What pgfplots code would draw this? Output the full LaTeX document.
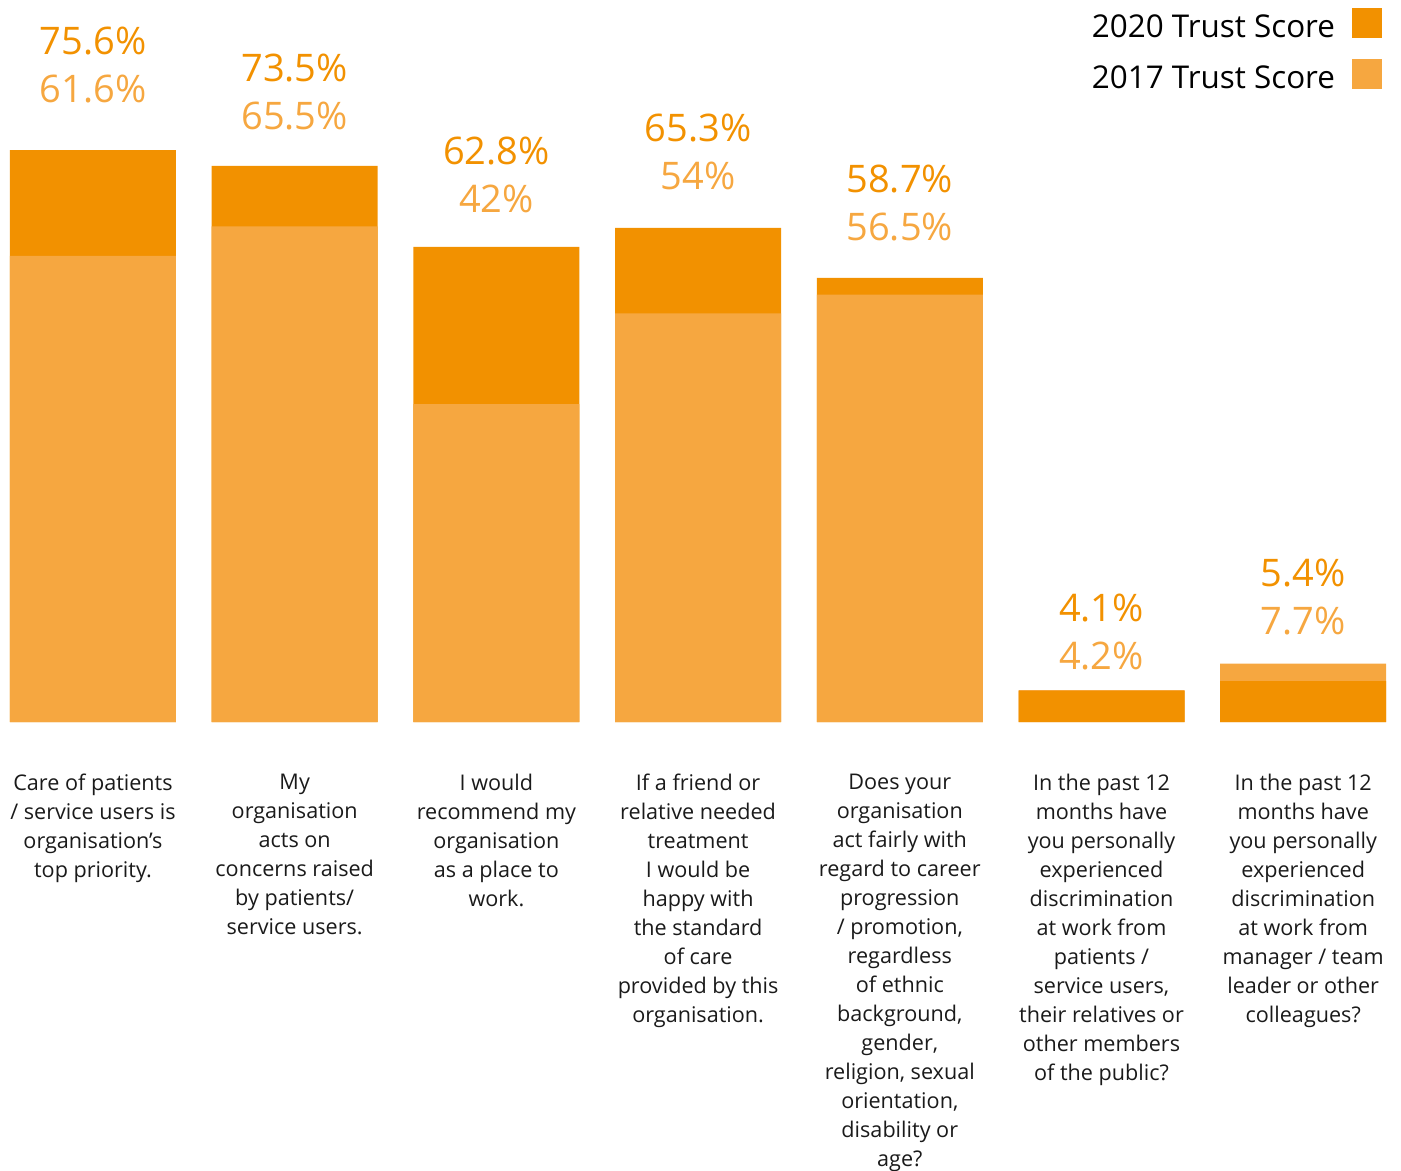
\documentclass[border=0pt]{standalone}
\usepackage{pgfplots}
\pgfplotsset{compat=1.18}
\usepackage{pgfplotstable}
\usepackage{fontspec}
\setmainfont{Open Sans}
\definecolor{c20}{HTML}{F29100}
\definecolor{c17}{HTML}{F6A740}
\definecolor{txt}{HTML}{1A1A1A}

% trust scores, off = label gap above the bar top (axis units)
\pgfplotstableread{
x y20 y17 top off
0 75.6 61.6 75.6 6.34
1 73.5 65.5 73.5 4.76
2 62.8 42 62.8 4.49
3 65.3 54 65.3 5.02
4 58.7 56.5 58.7 4.89
5 4.1 4.2 4.2 2.78
6 5.4 7.7 7.7 3.83
}\scores

\begin{document}
\begin{tikzpicture}
\begin{axis}[
    scale only axis,
    width=700.5pt, height=361pt,
    xmin=-0.461, xmax=6.485,
    ymin=0, ymax=95.43,
    clip=false,
    ybar, bar width=83pt,
    axis line style={draw=none},
    major tick length=0pt,
    tick style={draw=none},
    ytick=\empty,
    xtick={0,1,2,3,4,5,6},
    xticklabels={
        {Care of patients\\/ service users is\\organisation’s\\top priority.},
        {My\\organisation\\acts on\\concerns raised\\by patients/\\service users.},
        {I would\\recommend my\\organisation\\as a place to\\work.},
        {If a friend or\\relative needed\\treatment\\I would be\\happy with\\the standard\\of care\\provided by this\\organisation.},
        {Does your\\organisation\\act fairly with\\regard to career\\progression\\/ promotion,\\regardless\\of ethnic\\background,\\gender,\\religion, sexual\\orientation,\\disability or\\age?},
        {In the past 12\\months have\\you personally\\experienced\\discrimination\\at work from\\patients /\\service users,\\their relatives or\\other members\\of the public?},
        {In the past 12\\months have\\you personally\\experienced\\discrimination\\at work from\\manager / team\\leader or other\\colleagues?}
    },
    xticklabel style={font=\fontsize{10.8}{14.5}\selectfont, text=txt,
        align=center, anchor=north, inner sep=0pt, yshift=-26pt},
    legend plot pos=right,
    legend cell align=right,
    legend style={at={(1,1)}, anchor=north east, xshift=-9.5pt, yshift=-4pt,
        draw=none, fill=none, inner sep=0pt, outer sep=0pt,
        row sep=9pt, column sep=8.5pt,
        nodes={inner sep=0pt, text=black},
        font=\fontsize{15.7}{18}\selectfont},
    legend image code/.code={\fill[#1] (0pt,-5pt) rectangle (15pt,10pt);},
]
\addlegendimage{fill=c20, draw=none}
\addlegendentry{2020 Trust Score}
\addlegendimage{fill=c17, draw=none}
\addlegendentry{2017 Trust Score}

% 2017 bars that are taller than 2020 go behind
\addplot[forget plot, bar shift=0pt, fill=c17, draw=none,
    skip coords between index={0}{5}] table[x=x, y=y17] {\scores};
\addplot[forget plot, bar shift=0pt, fill=c20, draw=none]
    table[x=x, y=y20] {\scores};
\addplot[forget plot, bar shift=0pt, fill=c17, draw=none,
    skip coords between index={5}{7}] table[x=x, y=y17] {\scores};

% value labels
\addplot[forget plot, bar shift=0pt, draw=none, fill=none,
    point meta=explicit symbolic,
    nodes near coords={\pgfplotspointmeta\%},
    every node near coord/.append style={anchor=base, inner sep=0pt,
        text=c20, font=\fontsize{19}{24}\selectfont, yshift=24pt}]
    table[x=x, y expr=\thisrow{top}+\thisrow{off}, meta=y20] {\scores};
\addplot[forget plot, bar shift=0pt, draw=none, fill=none,
    point meta=explicit symbolic,
    nodes near coords={\pgfplotspointmeta\%},
    every node near coord/.append style={anchor=base, inner sep=0pt,
        text=c17, font=\fontsize{19}{24}\selectfont}]
    table[x=x, y expr=\thisrow{top}+\thisrow{off}, meta=y17] {\scores};
\end{axis}
\pgfresetboundingbox
\path (0pt,-224.5pt) rectangle (700.5pt,361pt);
\end{tikzpicture}
\end{document}
